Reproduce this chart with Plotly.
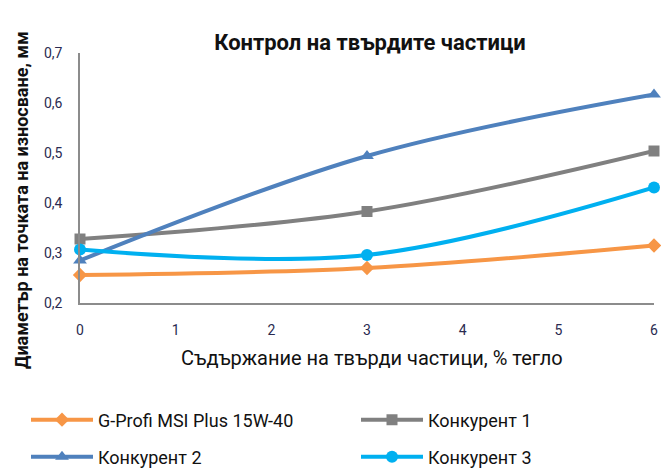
import plotly.graph_objects as go

x_vals = [0, 3, 6]
series_names = ["G-Profi MSI Plus 15W-40", "Конкурент 1", "Конкурент 2", "Конкурент 3"]
gprofi = [0.256, 0.27, 0.315]
konk1 = [0.328, 0.383, 0.504]
konk2 = [0.285, 0.494, 0.617]
konk3 = [0.307, 0.296, 0.431]
x_ticks = [0, 1, 2, 3, 4, 5, 6]
y_ticks = [0.2, 0.3, 0.4, 0.5, 0.6, 0.7]

colors = ["#F79646", "#808080", "#4F81BD", "#00B0F0"]
symbols = ["diamond", "square", "triangle-up", "circle"]
sizes = [11, 11, 12, 12]
legend_ids = ["legend", "legend2", "legend3", "legend4"]
# legend placement (container px): line start x, row centre y
legend_pos = [(26, 420), (356, 420), (26, 457), (356, 457)]

FONT = "Roboto, Liberation Sans, sans-serif"

W, H = 661, 470
L, R, T, B = 80, 7, 53, 167
PW, PH = W - L - R, H - T - B

fig = go.Figure()
for name, ys, c, s, sz, lg in zip(series_names, [gprofi, konk1, konk2, konk3], colors, symbols, sizes, legend_ids):
    fig.add_trace(go.Scatter(
        x=x_vals, y=ys, name=name, mode="lines+markers",
        line=dict(color=c, width=4, shape="spline", smoothing=1.0),
        marker=dict(symbol=s, size=sz, color=c),
        cliponaxis=False, legend=lg,
    ))

legend_layout = {}
for lg, (lx, ly) in zip(legend_ids, legend_pos):
    legend_layout[lg] = dict(orientation="h", xref="container", yref="container",
                             x=lx / W, xanchor="left", y=1 - ly / H, yanchor="middle",
                             itemwidth=62, font=dict(size=18, color="#111"),
                             bgcolor="rgba(0,0,0,0)")

fig.update_layout(
    width=W, height=H,
    margin=dict(l=L, r=R, t=T, b=B, autoexpand=False),
    paper_bgcolor="white", plot_bgcolor="white",
    separators=", ",
    font=dict(family=FONT, color="#222"),
    title=dict(text="<b>Контрол на твърдите частици</b>", x=370 / W, xanchor="center",
               y=1 - 42 / H, yanchor="middle", font=dict(size=22, color="#111")),
    showlegend=True,
    xaxis=dict(range=[0, 6], tickvals=x_ticks, showgrid=False, zeroline=False,
               showline=True, linecolor="#8c8c8c", linewidth=1.5, automargin=False,
               ticks="", tickfont=dict(size=14, color="#2a2a50"), ticklabelstandoff=13),
    yaxis=dict(range=[0.2, 0.7], tickvals=y_ticks, tickformat=".1f", showgrid=False,
               zeroline=False, showline=True, linecolor="#8c8c8c", linewidth=1.5,
               automargin=False,
               ticks="", tickfont=dict(size=14, color="#2a2a50"), ticklabelstandoff=13),
    **legend_layout,
)

fig.add_annotation(text="Съдържание на твърди частици, % тегло",
                   xref="paper", yref="paper", x=(372 - L) / PW, y=-55 / PH,
                   xanchor="center", yanchor="middle", showarrow=False,
                   font=dict(size=20, color="#111"))

fig.add_annotation(text="<b>Диаметър на точката на износване, мм</b>", textangle=-90,
                   xref="paper", yref="paper", x=(21 - L) / PW, y=(T + PH - 200) / PH,
                   xanchor="center", yanchor="middle", showarrow=False,
                   font=dict(size=18, color="#111"))

fig.write_html("out.html", config={"displayModeBar": False},
               post_script="document.body.style.margin='0';document.body.style.overflow='hidden';")
